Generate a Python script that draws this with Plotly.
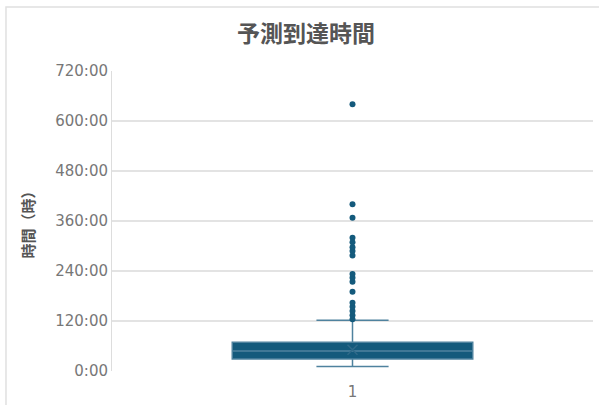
import plotly.graph_objects as go

# ---- data ----
categories = ["1"]
q1_vals = [29]
median_vals = [48]
q3_vals = [69]
lower_fence_vals = [11]
upper_fence_vals = [122]
mean_vals = [51]
outliers = [124, 134, 144, 154, 164, 190, 214, 224, 233,
            277, 288, 297, 309, 320, 368, 400, 640]
tick_vals = [0, 120, 240, 360, 480, 600, 720]
tick_text = ["0:00", "120:00", "240:00", "360:00", "480:00", "600:00", "720:00"]

BOX_FILL = "#145a7c"
BOX_LINE = "#4f829e"
TICK_FONT = "DejaVu Sans, Verdana, sans-serif"
CJK_FONT = "Noto Sans CJK JP, sans-serif"

fig = go.Figure()
fig.add_trace(go.Box(
    x=categories,
    q1=q1_vals, median=median_vals, q3=q3_vals,
    lowerfence=lower_fence_vals, upperfence=upper_fence_vals,
    fillcolor=BOX_FILL,
    line=dict(color=BOX_LINE, width=1.5),
    width=0.5, whiskerwidth=0.3,
    boxpoints=False, showlegend=False,
))
fig.add_trace(go.Scatter(
    x=categories * len(outliers), y=outliers, mode="markers",
    marker=dict(color=BOX_FILL, size=6), showlegend=False,
))
fig.add_trace(go.Scatter(
    x=categories, y=mean_vals, mode="markers",
    marker=dict(symbol="x-thin", size=10, line=dict(color="#2f6a89", width=1.5)),
    showlegend=False,
))

# outer card frame
fig.add_shape(type="rect", xref="paper", yref="paper",
              x0=-0.2204, x1=1.2, y0=-0.3, y1=1.2133,
              line=dict(color="#e0e0e0", width=1.5), layer="below")

fig.update_layout(
    width=599, height=405,
    margin=dict(l=112, r=6, t=71, b=34, autoexpand=False),
    paper_bgcolor="white", plot_bgcolor="white",
    font=dict(family=TICK_FONT, color="#777777", size=15),
    title=dict(text="<b>予測到達時間</b>", x=0.511, xref="container", xanchor="center",
               y=0.915, yref="container", yanchor="middle",
               font=dict(size=23, color="#555555", family=CJK_FONT)),
    xaxis=dict(type="category", range=[-0.5, 0.5], showgrid=False, automargin=False,
               showline=False, zeroline=False, ticks="outside", ticklen=7,
               tickcolor="rgba(0,0,0,0)",
               tickfont=dict(size=15, color="#777777", family=TICK_FONT)),
    yaxis=dict(range=[0, 720], tickvals=tick_vals, ticktext=tick_text, automargin=False,
               showgrid=True, gridcolor="#e3e3e3", gridwidth=1.5,
               showline=True, linecolor="#dddddd", linewidth=1,
               zeroline=False, ticks="",
               tickfont=dict(size=15, color="#777777", family=TICK_FONT),
               title=dict(text="<b>時間（時）</b>", standoff=16,
                          font=dict(size=15, color="#555555", family=CJK_FONT))),
)

fig.write_html("out.html", config={"displayModeBar": False},
               post_script="document.body.style.margin='0';")
